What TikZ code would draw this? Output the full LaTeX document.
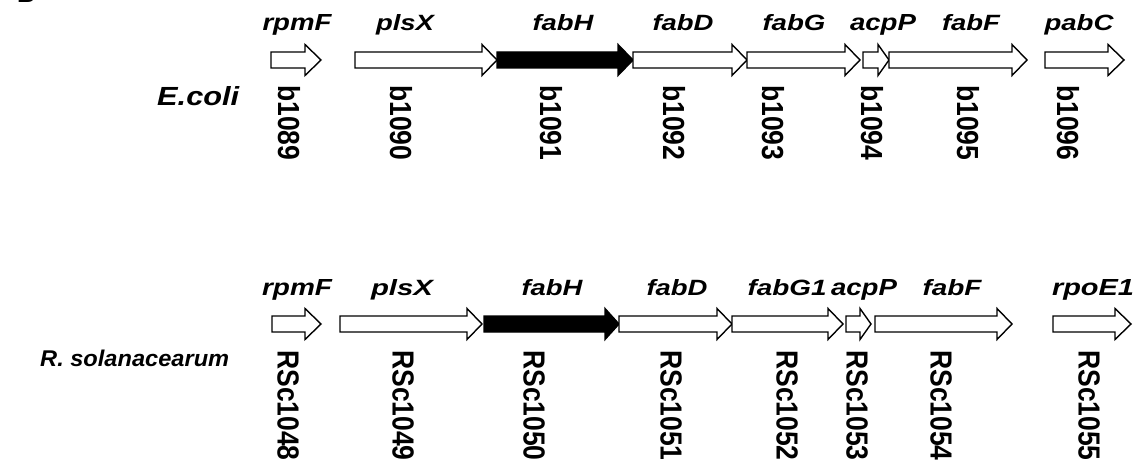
\documentclass[tikz,border=0pt]{standalone}
\usepackage{fontspec}
\setmainfont{Liberation Sans}[
  BoldFont={Liberation Sans Bold},
  ItalicFont={Liberation Sans Italic},
  BoldItalicFont={Liberation Sans Bold Italic}]
\usepackage{graphicx}

% lettering set to a given width and cap height (in pt)
\newcommand{\fitto}[3]{\resizebox{#1pt}{#2pt}{#3}}
\newcommand{\tallwide}[1]{\scalebox{1}[1.15]{#1}}

\tikzset{
  gene/.style={draw=black, line width=1.4pt, fill=white, line join=miter},
  genename/.style={anchor=base, inner sep=0pt,
    font=\fontsize{22}{26}\selectfont\bfseries\itshape},
  locus/.style={anchor=west, rotate=-90, inner sep=0pt,
    font=\fontsize{26.5}{30}\selectfont\bfseries},
  organism/.style={anchor=base west, inner sep=0pt,
    font=\fontsize{22}{26}\selectfont\bfseries\itshape},
}

% gene arrow: start, start of head, tip, centre line, fill colour
\newcommand{\genearrow}[5]{%
  \draw[gene, fill=#5] (#1,#4-8) -- (#2,#4-8) -- (#2,#4-15.5) -- (#3,#4)
    -- (#2,#4+15.5) -- (#2,#4+8) -- (#1,#4+8) -- cycle;}

\begin{document}
\begin{tikzpicture}[x=1pt, y=-1pt]
\useasboundingbox (0,0) rectangle (1140,462);

% panel letter, cut by the top edge
\begin{scope}
  \clip (0,0) rectangle (1140,462);
  \node[anchor=base west, inner sep=0pt, font=\fontsize{25}{30}\selectfont\bfseries]
    (panel) at (17,2.5) {B};
\end{scope}

% ---------------- E. coli ----------------
\node[organism] (ecoli) at (157,106) {\fitto{82}{19}{E.coli}};

\genearrow{271}{305}{321}{60}{white}
\genearrow{355}{482}{497}{60}{white}
\genearrow{497}{618}{633}{60}{black}
\genearrow{633}{732}{747}{60}{white}
\genearrow{747}{845}{860}{60}{white}
\genearrow{863}{878}{889}{60}{white}
\genearrow{889}{1012}{1027}{60}{white}
\genearrow{1045}{1108}{1124}{60}{white}

\node[genename] (e1) at (297,31)  {\fitto{69}{16}{rpmF}};
\node[genename] (e2) at (405,31)  {\fitto{58}{16}{plsX}};
\node[genename] (e3) at (563,31)  {\fitto{61}{16}{fabH}};
\node[genename] (e4) at (683,31)  {\fitto{61}{16}{fabD}};
\node[genename] (e5) at (794,31)  {\fitto{63}{16}{fabG}};
\node[genename] (e6) at (883,31)  {\fitto{66}{16}{acpP}};
\node[genename] (e7) at (971,31)  {\fitto{58}{16}{fabF}};
\node[genename] (e8) at (1079,31) {\fitto{69}{16}{pabC}};

\node[locus] (b1) at (289,85)  {\tallwide{b1089}};
\node[locus] (b2) at (401,85)  {\tallwide{b1090}};
\node[locus] (b3) at (551,85)  {\tallwide{b1091}};
\node[locus] (b4) at (674,85)  {\tallwide{b1092}};
\node[locus] (b5) at (773,85)  {\tallwide{b1093}};
\node[locus] (b6) at (872,85)  {\tallwide{b1094}};
\node[locus] (b7) at (968,85)  {\tallwide{b1095}};
\node[locus] (b8) at (1068,85) {\tallwide{b1096}};

% ---------------- R. solanacearum ----------------
\node[organism] (rsol) at (40,366) {\fitto{189}{16.5}{R. solanacearum}};

\genearrow{272}{305}{321}{324}{white}
\genearrow{340}{467}{482}{324}{white}
\genearrow{484}{605}{619}{324}{black}
\genearrow{619}{717}{732}{324}{white}
\genearrow{732}{828}{843}{324}{white}
\genearrow{846}{860}{871}{324}{white}
\genearrow{875}{997}{1012}{324}{white}
\genearrow{1053}{1115}{1131}{324}{white}

\node[genename] (r1) at (297,295)  {\fitto{70}{16}{rpmF}};
\node[genename] (r2) at (402,295)  {\fitto{62}{16}{plsX}};
\node[genename] (r3) at (552,295)  {\fitto{61}{16}{fabH}};
\node[genename] (r4) at (677,295)  {\fitto{61}{16}{fabD}};
\node[genename] (r5) at (787,295)  {\fitto{79}{16}{fabG1}};
\node[genename] (r6) at (864,295)  {\fitto{66}{16}{acpP}};
\node[genename] (r7) at (952,295)  {\fitto{59}{16}{fabF}};
\node[genename] (r8) at (1093,295) {\fitto{82}{16}{rpoE1}};

\node[locus] (s1) at (288,350)  {\tallwide{RSc1048}};
\node[locus] (s2) at (403,350)  {\tallwide{RSc1049}};
\node[locus] (s3) at (534,350)  {\tallwide{RSc1050}};
\node[locus] (s4) at (671,350)  {\tallwide{RSc1051}};
\node[locus] (s5) at (787,350)  {\tallwide{RSc1052}};
\node[locus] (s6) at (857,350)  {\tallwide{RSc1053}};
\node[locus] (s7) at (941,350)  {\tallwide{RSc1054}};
\node[locus] (s8) at (1089,350) {\tallwide{RSc1055}};
\end{tikzpicture}
\end{document}
